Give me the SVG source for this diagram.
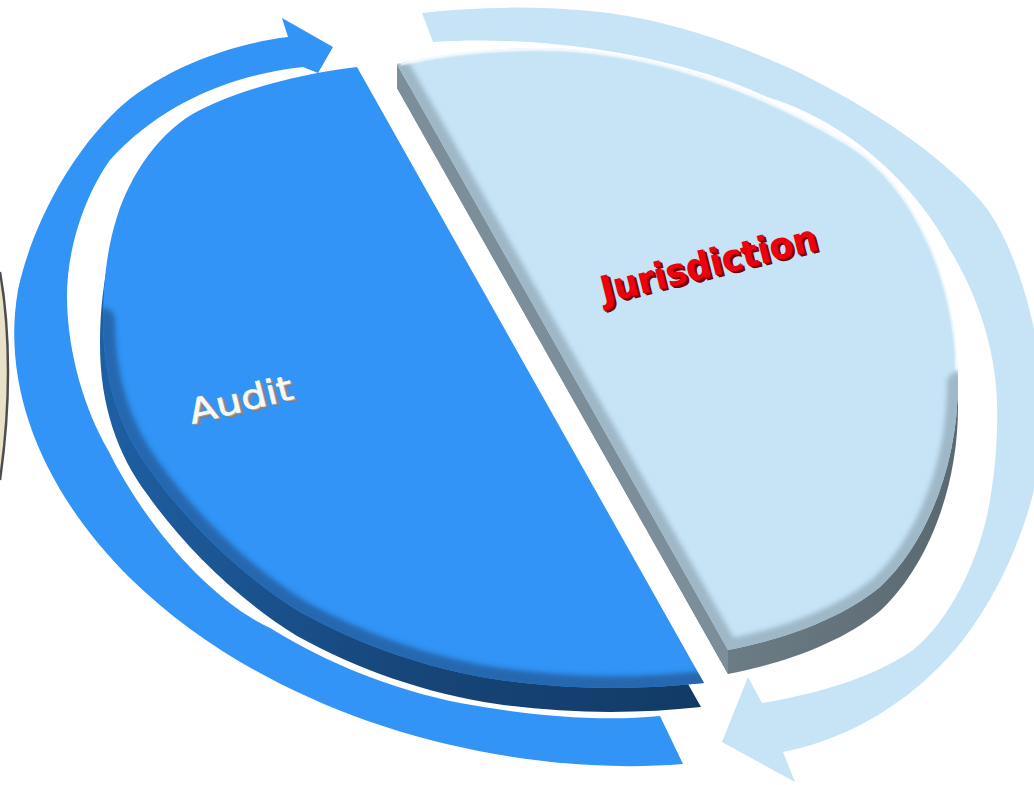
<svg xmlns="http://www.w3.org/2000/svg" width="1034" height="785" viewBox="0 0 1034 785">
<defs>
<style>
.blue{fill:#3194f6}
.light{fill:#c6e4f6}
.lbl{font-family:"DejaVu Sans","Liberation Sans",sans-serif}
</style>
<path id="blueFace" d="M357,67 C300,74 245,88 200,110 C160,130 130,175 117,217 C108,245 103,280 103,320 C103,380 120,430 150,470 C185,520 240,575 300,612 C360,645 430,670 500,680 C570,690 640,690 704,683 Z"/>
<path id="lightFace" d="M397,64 C440,54 490,48 540,48 C650,48 760,90 847,142 C920,186 958,290 958,383 C958,460 930,540 880,587 C840,620 780,640 728,650 Z"/>
<linearGradient id="blueSide" x1="0" y1="0" x2="1" y2="0">
<stop offset="0" stop-color="#1e5fa3"/>
<stop offset="0.5" stop-color="#17467a"/>
<stop offset="1" stop-color="#123a66"/>
</linearGradient>
<linearGradient id="lightSide" x1="0" y1="0" x2="1" y2="0">
<stop offset="0" stop-color="#8699a5"/>
<stop offset="1" stop-color="#5a6870"/>
</linearGradient>
<filter id="soft" x="-10%" y="-10%" width="120%" height="120%"><feGaussianBlur stdDeviation="2.5"/></filter>
<filter id="soft1" x="-10%" y="-10%" width="120%" height="120%"><feGaussianBlur stdDeviation="0.8"/></filter>
<clipPath id="clipBlue"><use href="#blueFace"/></clipPath>
<clipPath id="clipLight"><use href="#lightFace"/></clipPath>
</defs>
<rect width="1034" height="785" fill="#ffffff"/>
<g id="edge-sliver">
<path d="M0,272 C5,300 8,335 8,372 C8,410 5,445 0,480 Z" fill="#e8e2c9"/>
<path d="M0,272 C5,300 8,335 8,372 C8,410 5,445 0,480" fill="none" stroke="#4d4d4d" stroke-width="2.5"/>
</g>
<g id="connectors">
<path id="arrow-blue" class="blue" d="M288,37 C230,44 160,70 117,110 C70,155 32,225 18,290 C1,387 42,491 131,579 C220,666 351,729 495,754 C558,765 622,769 683,764 L660,716 C600,722 530,716 460,703 C395,690 330,665 270,628 C210,600 145,525 108,450 C85,410 68,355 67,300 C66,250 85,195 110,160 C160,105 230,75 303,67 L318,73 L333,47 L282,18 Z"/>
<path id="arrow-light" class="light" d="M422,13 C480,6 540,6 600,12 C670,20 740,45 800,73 C870,108 935,150 980,200 C1015,240 1040,330 1045,405 C1046,470 1020,565 963,640 C920,695 855,738 783,752 L795,782 L722,742 L748,677 L762,703 C810,695 870,680 913,650 C950,620 980,560 990,500 C996,465 998,430 997,400 C995,345 975,290 950,250 C925,200 860,125 767,97 C745,87 725,79 700,72 C620,48 520,36 433,42 Z"/>
</g>
<g id="node-audit">
<use href="#blueFace" transform="translate(-3,24)" fill="url(#blueSide)"/>
<use href="#blueFace" class="blue"/>
<g clip-path="url(#clipBlue)">
<path d="M103,320 C103,380 120,430 150,470 C185,520 240,575 300,612 C360,645 430,670 500,680 C570,690 640,690 704,683" fill="none" stroke="#2567b0" stroke-width="24" stroke-linecap="round" filter="url(#soft)"/>
</g>
<g class="lbl" font-size="34" transform="translate(192,424) rotate(-14)">
<text x="3" y="3" fill="#7a7a7a" textLength="106" lengthAdjust="spacingAndGlyphs">Audit</text>
<text x="2" y="2" fill="#8e8e8e" textLength="106" lengthAdjust="spacingAndGlyphs">Audit</text>
<text x="1" y="1" fill="#b0b0b0" textLength="106" lengthAdjust="spacingAndGlyphs">Audit</text>
<text x="0" y="0" fill="#fafafa" stroke="#fafafa" stroke-width="0.6" textLength="106" lengthAdjust="spacingAndGlyphs">Audit</text>
</g>
</g>
<g id="node-jurisdiction">
<use href="#lightFace" transform="translate(0,24)" fill="url(#lightSide)"/>
<path d="M397,64 L728,650 L728,674 L397,88 Z" fill="#7b8e9a"/>
<use href="#lightFace" class="light"/>
<g clip-path="url(#clipLight)">
<path d="M397,64 L728,650 C780,640 840,620 880,587 C930,540 958,460 958,383" fill="none" stroke="#9fb8c8" stroke-width="22" stroke-linecap="round" filter="url(#soft)"/>
<path d="M400,63 C440,54 490,48 540,48 C650,48 760,90 847,142 C920,186 958,290 958,370" fill="none" stroke="#ffffff" stroke-width="5" opacity="0.9" filter="url(#soft1)"/>
</g>
<g class="lbl" font-size="37" font-weight="bold" transform="translate(604,303) rotate(-14)">
<text x="2.5" y="3" fill="#6e0000" textLength="222" lengthAdjust="spacingAndGlyphs">Jurisdiction</text>
<text x="1.2" y="1.5" fill="#9a0000" textLength="222" lengthAdjust="spacingAndGlyphs">Jurisdiction</text>
<text x="0" y="0" fill="#ee0010" textLength="222" lengthAdjust="spacingAndGlyphs">Jurisdiction</text>
</g>
</g>
</svg>
